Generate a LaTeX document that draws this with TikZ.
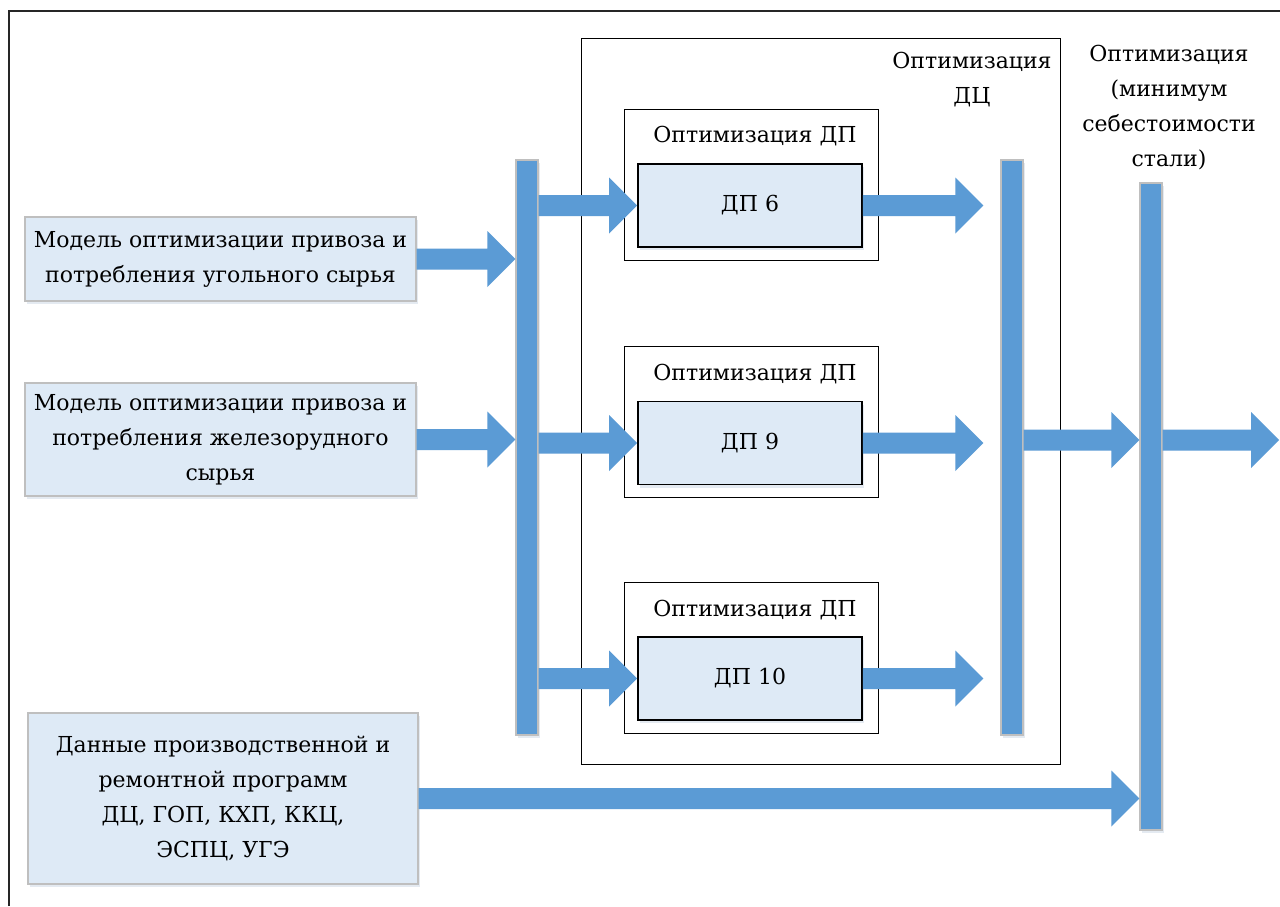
\documentclass[tikz,border=0pt]{standalone}
\usepackage{fontspec}
\setmainfont{DejaVu Serif}
\usetikzlibrary{calc,shadows}
\definecolor{barblue}{HTML}{5B9BD5}
\definecolor{boxfill}{HTML}{DEEAF6}
\definecolor{boxline}{HTML}{BFBFBF}
\tikzset{
  softshadow/.style={drop shadow={opacity=0.18,shadow xshift=1pt,shadow yshift=-1.5pt,fill=barblue!60!gray}},
  inbox/.style={draw=boxline,line width=0.6pt,fill=boxfill,align=center,inner sep=0pt,softshadow},
  dpbox/.style={draw=black,line width=0.8pt,fill=boxfill,inner sep=0pt,minimum width=112pt,minimum height=41.5pt,softshadow},
  dpframe/.style={draw=black,line width=0.5pt,fill=white,inner sep=0pt,minimum width=127pt,minimum height=75.5pt},
  vbar/.style={draw=boxline,line width=0.6pt,fill=barblue,inner sep=0pt,minimum width=11pt,softshadow},
  lbl/.style={align=center,inner sep=0pt},
  arrowfill/.style={fill=barblue}
}
\newcommand\blockarrow[2]{%
  \fill[arrowfill] let \p1=#1, \p2=#2 in
   (\x1,\y2+5.25pt) -- (\x2-14pt,\y2+5.25pt) -- (\x2-14pt,\y2+14pt) -- (\x2,\y2)
   -- (\x2-14pt,\y2-14pt) -- (\x2-14pt,\y2-5.25pt) -- (\x1,\y2-5.25pt) -- cycle;}
\begin{document}
\begin{tikzpicture}[x=0.5pt,y=-0.5pt,font=\fontsize{11}{17.5}\selectfont]
\useasboundingbox (0,0) rectangle (1280,906);
\fill[white] (0,0) rectangle (1280,906);
% outer frame
\draw[line width=1pt,black!85] (9,906) -- (9,11) -- (1280,11);

% DC frame
\node[draw=black,line width=0.5pt,inner sep=0pt,minimum width=239.5pt,minimum height=363pt] (dc) at (820.5,401) {};
\node[lbl] (labdc) at (972,80) {Оптимизация\\ДЦ};
\node[lbl] (labsteel) at (1169,108) {Оптимизация\\(минимум\\себестоимости\\стали)};

% DP frames
\node[dpframe] (f1) at (751,184.5) {};
\node[dpframe] (f2) at (751,421.5) {};
\node[dpframe] (f3) at (751,657.5) {};
\node[lbl] (l1) at (755,136) {Оптимизация ДП};
\node[lbl] (l2) at (755,374) {Оптимизация ДП};
\node[lbl] (l3) at (755,610) {Оптимизация ДП};

% input boxes
\node[inbox,minimum width=195.5pt,minimum height=42pt] (box1) at (220.5,259) {Модель оптимизации привоза и\\потребления угольного сырья};
\node[inbox,minimum width=195.5pt,minimum height=56.5pt] (box2) at (220.5,439.5) {Модель оптимизации привоза и\\потребления железорудного\\сырья};
\node[inbox,minimum width=195pt,minimum height=85.5pt] (box3) at (223,798.5) {Данные производственной и\\ремонтной программ\\ДЦ, ГОП, КХП, ККЦ,\\ЭСПЦ, УГЭ};

% bars
\node[vbar,minimum height=287.5pt] (bar1) at (527,447.5) {};
\node[vbar,minimum height=287.5pt] (bar2) at (1012,447.5) {};
\node[vbar,minimum height=323.5pt] (bar3) at (1151,506.5) {};

% DP boxes
\node[dpbox] (dp6) at (750,205.5) {ДП 6};
\node[dpbox] (dp9) at (750,443) {ДП 9};
\node[dpbox] (dp10) at (750,678.5) {ДП 10};

\coordinate (out) at (1279,440);

% arrows
\blockarrow{(box1.east)}{(box1.east -| bar1.west)}
\blockarrow{(box2.east)}{(box2.east -| bar1.west)}
\blockarrow{(box3.east)}{(box3.east -| bar3.west)}
\blockarrow{(bar1.east |- dp6.west)}{(dp6.west)}
\blockarrow{(bar1.east |- dp9.west)}{(dp9.west)}
\blockarrow{(bar1.east |- dp10.west)}{(dp10.west)}
\blockarrow{(dp6.east)}{($(dp6.east -| bar2.west)+(-8.5pt,0)$)}
\blockarrow{(dp9.east)}{($(dp9.east -| bar2.west)+(-8.5pt,0)$)}
\blockarrow{(dp10.east)}{($(dp10.east -| bar2.west)+(-8.5pt,0)$)}
\blockarrow{(bar2.east |- out)}{(out -| bar3.west)}
\blockarrow{(bar3.east |- out)}{(out)}
\end{tikzpicture}
\end{document}
